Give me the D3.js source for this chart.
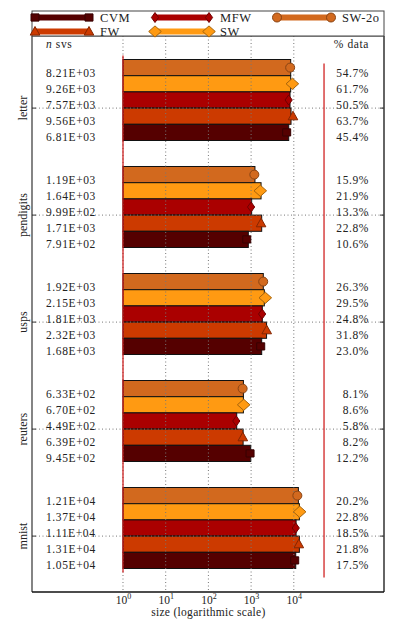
<!DOCTYPE html>
<meta charset="utf-8">
<style>
    body { margin: 0; background: #fff; }
    text {
        font-family: "Liberation Serif", "DejaVu Serif", serif;
        font-size: 11.5px;
        fill: #222;
    }
    .num { letter-spacing: 0.6px; }
    .grid { stroke: #777; stroke-width: 1; stroke-dasharray: 1,2.5; fill: none; }
</style>
<svg id="chart" width="399" height="630"></svg>
<script src="https://cdn.jsdelivr.net/npm/d3@7/dist/d3.min.js"></script>
<script>
    // data (top to bottom inside each group)
    var datasets = ["letter", "pendigits", "usps", "reuters", "mnist"];
    var methods = ["SW-2o", "SW", "MFW", "FW", "CVM"];
    var legendOrder = ["CVM", "FW", "MFW", "SW", "SW-2o"];
    var colors = ["#d2691e", "#ff9a12", "#aa0000", "#cc3a00", "#550000"];
    var markers = ["circle", "diamond", "thin_diamond", "triangle", "square"];

    // number of support vectors (labels + markers)
    var nSvs = [
        [8.21e3, 9.26e3, 7.57e3, 9.56e3, 6.81e3],
        [1.19e3, 1.64e3, 9.99e2, 1.71e3, 7.91e2],
        [1.92e3, 2.15e3, 1.81e3, 2.32e3, 1.68e3],
        [6.33e2, 6.70e2, 4.49e2, 6.39e2, 9.45e2],
        [1.21e4, 1.37e4, 1.11e4, 1.31e4, 1.05e4]
    ];
    // bar lengths
    var barSize = [
        [8.45e3, 8.45e3, 8.15e3, 8.6e3, 7.6e3],
        [1.23e3, 1.71e3, 1.03e3, 1.77e3, 8.6e2],
        [1.93e3, 2.04e3, 1.83e3, 2.3e3, 1.77e3],
        [6.6e2, 6.6e2, 4.6e2, 6.5e2, 9.8e2],
        [1.28e4, 1.35e4, 1.13e4, 1.35e4, 1.11e4]
    ];
    // % of data
    var pctData = [
        [54.7, 61.7, 50.5, 63.7, 45.4],
        [15.9, 21.9, 13.3, 22.8, 10.6],
        [26.3, 29.5, 24.8, 31.8, 23.0],
        [8.1, 8.6, 5.8, 8.2, 12.2],
        [20.2, 22.8, 18.5, 21.8, 17.5]
    ];
    var xTicks = [1, 10, 100, 1000, 10000];
    var separatorAt = 5.1e4;

    var svg = d3.select("#chart");
    var ax = { left: 32, right: 384, top: 36, bottom: 592 };

    var x = d3.scaleLog()
        .domain([Math.pow(10, -2.131), Math.pow(10, 6.112)])
        .range([ax.left, ax.right]);

    var y0 = d3.scaleBand()
        .domain(datasets)
        .range([ax.top, ax.bottom])
        .paddingInner(0.243)
        .paddingOuter(0.2196);

    var y1 = d3.scaleBand()
        .domain(methods)
        .range([0, y0.bandwidth()]);

    var color = d3.scaleOrdinal().domain(methods).range(colors);
    var shape = d3.scaleOrdinal().domain(methods).range(markers);

    function markerPath(type) {
        switch (type) {
            case "circle": return "M4.5,0A4.5,4.5 0 1,1 -4.5,0A4.5,4.5 0 1,1 4.5,0Z";
            case "diamond": return "M0,-5.6L6.3,0L0,5.6L-6.3,0Z";
            case "thin_diamond": return "M0,-5L3.6,0L0,5L-3.6,0Z";
            case "triangle": return "M0,-5L4.8,3.6L-4.8,3.6Z";
            case "square": return "M-4,-3.6L4,-3.6L4,3.6L-4,3.6Z";
        }
    }

    var tickY = function (ds) { return y0(ds) + 3 * y1.step(); };

    // bars
    var g = svg.append("g");
    datasets.forEach(function (ds, i) {
        var rows = methods.map(function (m, j) {
            return { method: m, bar: barSize[i][j] };
        });
        var grp = g.append("g").attr("transform", "translate(0," + y0(ds) + ")");

        grp.selectAll("rect")
            .data(rows)
            .enter().append("rect")
            .attr("x", x(1))
            .attr("y", d => y1(d.method))
            .attr("width", d => x(d.bar) - x(1))
            .attr("height", y1.bandwidth())
            .attr("fill", d => color(d.method))
            .attr("stroke", "#111")
            .attr("stroke-width", 1);
    });

    // grid lines (drawn over the bars)
    svg.append("g").selectAll("line")
        .data(xTicks)
        .enter().append("line")
        .attr("class", "grid")
        .attr("x1", d => x(d)).attr("x2", d => x(d))
        .attr("y1", ax.top).attr("y2", ax.bottom);

    svg.append("g").selectAll("line")
        .data(datasets)
        .enter().append("line")
        .attr("class", "grid")
        .attr("x1", ax.left).attr("x2", ax.right)
        .attr("y1", d => tickY(d)).attr("y2", d => tickY(d));

    // red lines
    var firstTop = y0(datasets[0]);
    var lastBottom = y0(datasets[datasets.length - 1]) + y0.bandwidth();
    svg.append("line")
        .attr("x1", x(1)).attr("x2", x(1))
        .attr("y1", firstTop - 4).attr("y2", lastBottom + 4)
        .attr("stroke", "#cc1111").attr("stroke-width", 1.2);
    svg.append("line")
        .attr("x1", x(separatorAt)).attr("x2", x(separatorAt))
        .attr("y1", firstTop + 4).attr("y2", lastBottom + 9)
        .attr("stroke", "#cc1111").attr("stroke-width", 1.2);

    // markers and labels
    var fmtSvs = function (v) {
        var e = Math.floor(Math.log10(v) + 1e-9);
        var m = v / Math.pow(10, e);
        return m.toFixed(2) + "E+" + (e < 10 ? "0" + e : e);
    };
    datasets.forEach(function (ds, i) {
        var rows = methods.map(function (m, j) {
            return { method: m, svs: nSvs[i][j], pct: pctData[i][j] };
        });
        var grp = svg.append("g").attr("transform", "translate(0," + y0(ds) + ")");

        grp.selectAll("path")
            .data(rows)
            .enter().append("path")
            .attr("d", d => markerPath(shape(d.method)))
            .attr("transform", d => "translate(" + x(d.svs) + "," + (y1(d.method) + y1.bandwidth() / 2) + ")")
            .attr("fill", d => color(d.method))
            .attr("stroke", d => d3.color(color(d.method)).darker(1.2))
            .attr("stroke-width", 1);

        grp.selectAll("text.svs")
            .data(rows)
            .enter().append("text")
            .attr("class", "svs num")
            .attr("x", 46)
            .attr("y", d => y1(d.method) + y1.bandwidth() / 2 + 9)
            .text(d => fmtSvs(d.svs));

        grp.selectAll("text.pct")
            .data(rows)
            .enter().append("text")
            .attr("class", "pct num")
            .attr("x", 369)
            .attr("text-anchor", "end")
            .attr("y", d => y1(d.method) + y1.bandwidth() / 2 + 9)
            .text(d => d.pct.toFixed(1) + "%");

        // group label
        svg.append("text")
            .attr("transform", "translate(27," + tickY(ds) + ") rotate(-90)")
            .attr("text-anchor", "middle")
            .style("font-size", "12px")
            .text(ds);
    });

    // headers
    var hdr = svg.append("text").attr("x", 46).attr("y", 48).attr("class", "num");
    hdr.append("tspan").style("font-style", "italic").text("n");
    hdr.append("tspan").text(" svs");
    svg.append("text").attr("x", 369).attr("y", 48).attr("text-anchor", "end")
        .attr("class", "num").text("% data");

    // frame + y ticks
    svg.append("line").attr("x1", ax.left).attr("x2", ax.left).attr("y1", ax.top).attr("y2", ax.bottom)
        .attr("stroke", "#666").attr("stroke-width", 1.6);
    svg.append("line").attr("x1", ax.right).attr("x2", ax.right).attr("y1", ax.top).attr("y2", ax.bottom)
        .attr("stroke", "#111").attr("stroke-width", 1.3);
    svg.append("line").attr("x1", ax.left).attr("x2", ax.right).attr("y1", ax.bottom).attr("y2", ax.bottom)
        .attr("stroke", "#111").attr("stroke-width", 1.3);
    svg.append("line").attr("x1", ax.left).attr("x2", ax.right).attr("y1", ax.top).attr("y2", ax.top)
        .attr("stroke", "#444").attr("stroke-width", 1);
    datasets.forEach(function (ds) {
        svg.append("line").attr("x1", ax.left).attr("x2", ax.left + 4)
            .attr("y1", tickY(ds)).attr("y2", tickY(ds)).attr("stroke", "#333");
        svg.append("line").attr("x1", ax.right - 4).attr("x2", ax.right)
            .attr("y1", tickY(ds)).attr("y2", tickY(ds)).attr("stroke", "#333");
    });

    // x axis
    var xAxis = svg.append("g")
        .attr("transform", "translate(0," + ax.bottom + ")")
        .call(d3.axisBottom(x).tickValues(xTicks).tickSize(0).tickPadding(4).tickFormat(""));
    xAxis.select(".domain").remove();
    xAxis.selectAll(".tick text").each(function (d) {
        var t = d3.select(this)
            .attr("font-family", null).attr("font-size", null)
            .attr("fill", null).attr("text-anchor", "middle");
        t.append("tspan").style("font-size", "11.5px").text("10");
        t.append("tspan").attr("dy", "-5").style("font-size", "8px").text(Math.round(Math.log10(d)));
    });
    svg.append("text")
        .attr("x", x(100))
        .attr("y", 616)
        .attr("text-anchor", "middle")
        .attr("class", "num")
        .style("letter-spacing", "0.3px")
        .text("size (logarithmic scale)");

    // legend
    var leg = svg.append("g");
    leg.append("rect")
        .attr("x", ax.left).attr("y", 11)
        .attr("width", ax.right - ax.left).attr("height", ax.top - 11)
        .attr("fill", "#fff").attr("stroke", "#444").attr("stroke-width", 1);
    var legCols = [35, 155, 277];
    var legRows = [17.5, 31.5];
    legendOrder.forEach(function (m, k) {
        var cx = legCols[Math.floor(k / 2)], cy = legRows[k % 2];
        var item = leg.append("g").attr("transform", "translate(" + cx + "," + cy + ")");
        item.append("line")
            .attr("x1", 0).attr("x2", 54)
            .attr("stroke", color(m)).attr("stroke-width", 6);
        [0, 54].forEach(function (px) {
            item.append("path")
                .attr("d", markerPath(shape(m)))
                .attr("transform", "translate(" + px + ",0)")
                .attr("fill", color(m))
                .attr("stroke", d3.color(color(m)).darker(1.2));
        });
        item.append("text")
            .attr("x", 65).attr("y", 4.5)
            .attr("class", "num")
            .style("font-size", "12.5px")
            .text(m);
    });
</script>
